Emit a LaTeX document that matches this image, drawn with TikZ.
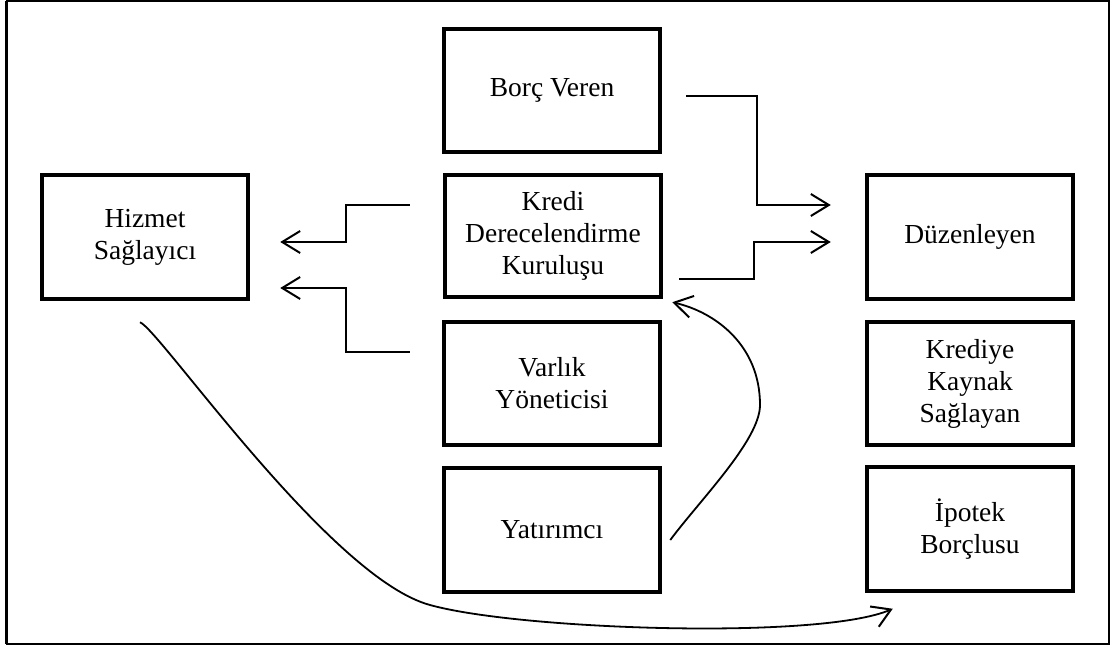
\documentclass[tikz,border=0pt]{standalone}
\usepackage{fontspec}
\setmainfont{Liberation Serif}
\usetikzlibrary{arrows.meta}
\begin{document}
\begin{tikzpicture}[x=1pt,y=-1pt,
  box/.style={draw,line width=4.5pt,rectangle,inner sep=0pt,align=center,
    minimum width=216pt,minimum height=123pt,font=\fontsize{27.5}{32}\selectfont},
  sidebox/.style={box,minimum width=206pt,minimum height=124pt},
  conn/.style={line width=2pt,-{Straight Barb[length=18pt,width=22pt,line width=2pt]}},
  curv/.style={line width=1.8pt,-{Straight Barb[length=18pt,width=22pt,line width=2pt]}}]
\useasboundingbox (0,0) rectangle (1113,647);
\draw[line width=2pt] (7,1) rectangle (1109,644);
\draw[line width=1.5pt] (5.5,1) -- (5.5,644);
\node[box] (borc) at (552,90.5) {Borç Veren};
\node[box,minimum height=122pt] (kredi) at (553,236) {Kredi\\Derecelendirme\\Kuruluşu};
\node[box] (varlik) at (552,383.5) {Varlık\\Yöneticisi};
\node[box,minimum height=124pt] (yat) at (552,530) {Yatırımcı};
\node[sidebox] (hizmet) at (145,237) {Hizmet\\Sağlayıcı};
\node[sidebox] (duz) at (970,237) {Düzenleyen};
\node[sidebox,minimum height=123pt] (kay) at (970,383.5) {Krediye\\Kaynak\\Sağlayan};
\node[sidebox] (ipo) at (970,529) {İpotek\\Borçlusu};
% right connectors
\draw[conn] ([xshift=24pt,yshift=-5.5pt]borc.east) -| ([xshift=-108pt,yshift=32pt]duz.west) -- ([xshift=-34pt,yshift=32pt]duz.west);
\draw[conn] ([xshift=16pt,yshift=-43pt]kredi.east) -| ([xshift=-111pt,yshift=-5pt]duz.west) -- ([xshift=-34pt,yshift=-5pt]duz.west);
% left connectors
\draw[conn] ([xshift=-33pt,yshift=31pt]kredi.west) -| ([xshift=96pt,yshift=-5pt]hizmet.east) -- ([xshift=30pt,yshift=-5pt]hizmet.east);
\draw[conn] ([xshift=-32pt,yshift=31.5pt]varlik.west) -| ([xshift=96pt,yshift=-51pt]hizmet.east) -- ([xshift=30pt,yshift=-51pt]hizmet.east);
% curves
\draw[curv] ([xshift=8pt,yshift=-10pt]yat.east) .. controls (700,500) and (760,440) .. (760,405) .. controls (760,345) and (715,312) .. ([xshift=9pt,yshift=-3pt]kredi.south east);
\draw[curv] ([xshift=-5pt,yshift=-21pt]hizmet.south) .. controls (160,330) and (330,578) .. (430,605) .. controls (520,630) and (820,640) .. ([xshift=28pt,yshift=-15.5pt]ipo.south west);
\end{tikzpicture}
\end{document}
